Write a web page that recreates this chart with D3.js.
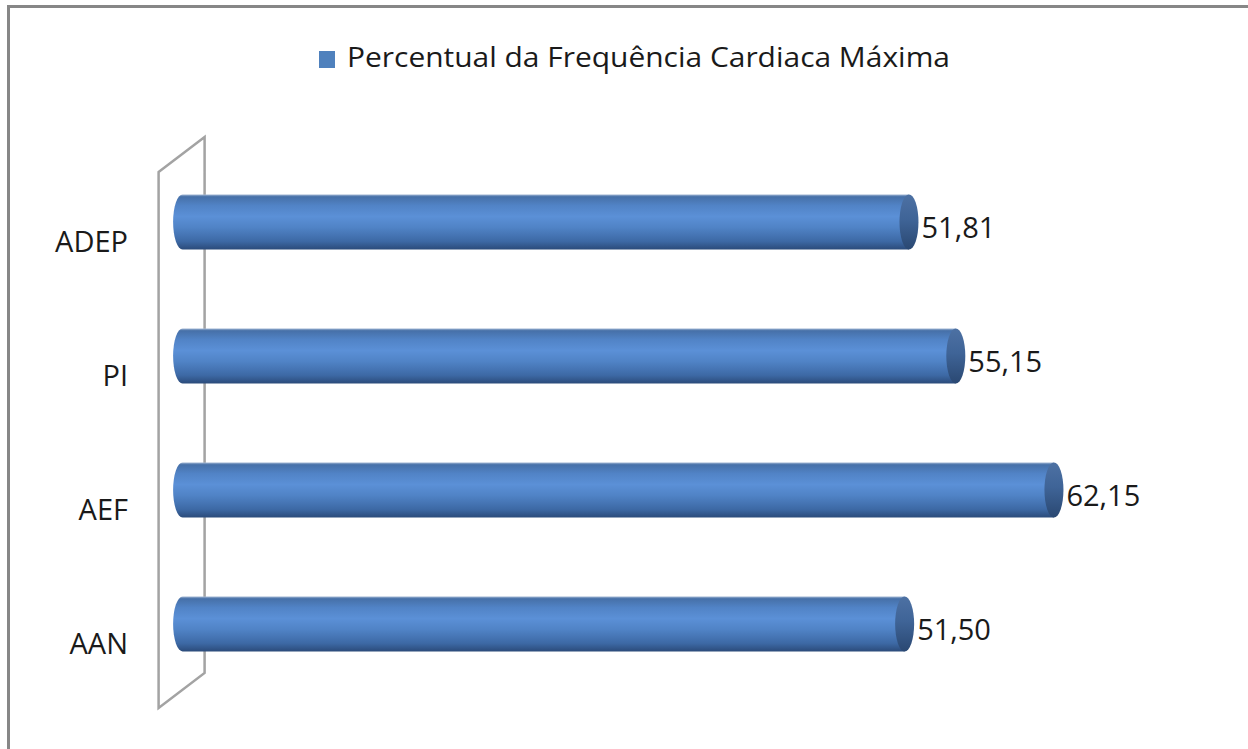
<!DOCTYPE html>
<html>
<head>
<meta charset="utf-8">
<script src="https://cdn.jsdelivr.net/npm/d3@7"></script>
<style>
  body { margin: 0; background: #fff; }
  svg { display: block; font-family: "Open Sans", "DejaVu Sans", sans-serif; }
</style>
</head>
<body>
<div id="chart"></div>
<script>
const width = 1248, height = 749;

// data
const categories = ["ADEP", "PI", "AEF", "AAN"];
const values = [51.81, 55.15, 62.15, 51.50];
const seriesName = "Percentual da Frequência Cardiaca Máxima";

const data = categories.map((c, i) => ({name: c, value: values[i]}));

let svg = d3.select("#chart")
    .append("svg")
    .attr("width", width)
    .attr("height", height);

let defs = svg.append("defs");

// body shading of the cylinders
let bodyGrad = defs.append("linearGradient")
    .attr("id", "body")
    .attr("x1", 0).attr("y1", 0).attr("x2", 0).attr("y2", 1);
[[0, "#9fb5d3"], [0.04, "#4670a8"], [0.2, "#5183c6"], [0.4, "#5b90d7"],
 [0.6, "#5083c6"], [0.85, "#3d69a5"], [1, "#2b4b7a"]].forEach(s => {
    bodyGrad.append("stop").attr("offset", s[0]).attr("stop-color", s[1]);
});

let capGrad = defs.append("linearGradient")
    .attr("id", "cap")
    .attr("x1", 0).attr("y1", 0).attr("x2", 0).attr("y2", 1);
[[0, "#4d71a3"], [0.45, "#3f6497"], [1, "#2a4872"]].forEach(s => {
    capGrad.append("stop").attr("offset", s[0]).attr("stop-color", s[1]);
});

// outer frame (runs off the right and bottom edge)
svg.append("rect")
    .attr("x", 8.5)
    .attr("y", 6.5)
    .attr("width", width + 20)
    .attr("height", height + 20)
    .attr("fill", "none")
    .attr("stroke", "#878787")
    .attr("stroke-width", 3);

let x = d3.scaleLinear()
    .domain([0, 70])
    .range([182.6, 182.6 + 70 * 14.02]);

let y = d3.scaleBand()
    .domain(categories)
    .range([155, 691])
    .paddingInner(0.59)
    .paddingOuter(0.295);

// the thin 3D wall on the left
let [y0, y1] = y.range();
let wallR = x(0) + 22, wallL = x(0) - 24, depth = 35;
svg.append("path")
    .attr("d", `M${wallL},${y0 + 17} L${wallR},${y0 - depth + 17} L${wallR},${y1 - depth + 17} L${wallL},${y1 + 17} Z`)
    .attr("fill", "none")
    .attr("stroke", "#a3a3a3")
    .attr("stroke-width", 2.5);

let rx = 9.5;
let bars = svg.append("g").selectAll("g").data(data).enter().append("g");

// cylinder body with rounded left end
bars.append("path")
    .attr("d", function(d) {
        let top = y(d.name), h = y.bandwidth(), x0 = x(0), x1 = x(d.value);
        return `M${x1},${top} L${x0},${top} A${rx},${h / 2} 0 0 0 ${x0},${top + h} L${x1},${top + h} Z`;
    })
    .attr("fill", "url(#body)");

// right end cap
bars.append("ellipse")
    .attr("cx", function(d) { return x(d.value); })
    .attr("cy", function(d) { return y(d.name) + y.bandwidth() / 2; })
    .attr("rx", rx)
    .attr("ry", y.bandwidth() / 2)
    .attr("fill", "url(#cap)");

// value labels
bars.append("text")
    .attr("x", function(d) { return x(d.value) + rx + 3; })
    .attr("y", function(d) { return y(d.name) + y.bandwidth() / 2 + 8; })
    .attr("dominant-baseline", "middle")
    .style("font-size", "29px")
    .style("fill", "#1a1a1a")
    .text(function(d) { return d3.format(".2f")(d.value).replace(".", ","); });

// category labels
let yAxis = svg.append("g")
    .attr("transform", `translate(128, 21)`)
    .call(d3.axisLeft(y).tickSize(0).tickPadding(0));
yAxis.select(".domain").remove();
yAxis.selectAll("text")
    .style("font-family", "'Open Sans', sans-serif")
    .style("font-size", "29px")
    .style("fill", "#1a1a1a");

// legend
svg.append("rect")
    .attr("x", 319)
    .attr("y", 51)
    .attr("width", 16)
    .attr("height", 17)
    .attr("fill", "#4f81bd");

svg.append("text")
    .attr("x", 347)
    .attr("y", 60)
    .attr("dominant-baseline", "middle")
    .attr("textLength", 603)
    .attr("lengthAdjust", "spacingAndGlyphs")
    .style("font-size", "28px")
    .style("fill", "#1a1a1a")
    .text(seriesName);
</script>
</body>
</html>
